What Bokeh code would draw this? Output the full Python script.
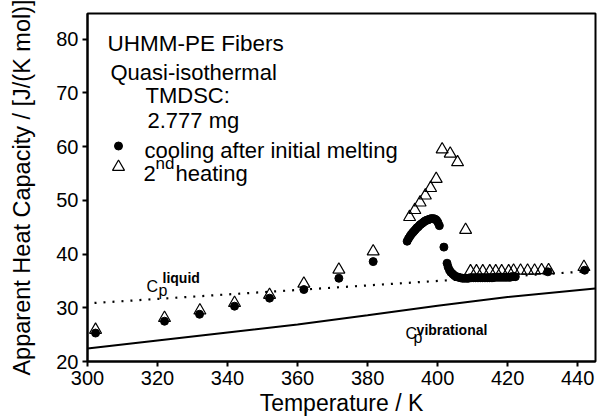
from bokeh.plotting import figure
from bokeh.models import Label, Range1d, FixedTicker
from bokeh.embed import file_html
from bokeh.resources import INLINE

# ---------------- data ----------------
x_ticks = [300, 320, 340, 360, 380, 400, 420, 440]
y_ticks = [20, 30, 40, 50, 60, 70, 80]

# cooling after initial melting (filled circles)
cool_T = [302.3, 322.0, 332.0, 342.0, 352.0, 361.8, 371.8, 381.6,
          391.3, 391.7, 392.1, 392.5, 392.9, 393.3, 393.7, 394.1, 394.5, 394.9,
          395.3, 395.7, 396.1, 396.5, 396.9, 397.3, 397.7, 398.1, 398.5, 398.9,
          399.3, 399.7, 400.1, 400.5, 401.8, 402.7, 403.0, 403.4, 403.8, 404.3,
          404.8, 405.3, 405.9, 406.5, 407.1, 407.7, 408.3, 408.8, 409.3, 409.8,
          410.3, 410.8, 411.3, 411.8, 412.3, 412.8, 413.3, 413.8, 414.3, 414.8,
          415.3, 415.8, 416.3, 416.8, 417.3, 417.8, 418.3, 418.8, 419.3, 419.8,
          420.3, 420.8, 421.3, 421.8, 422.2, 431.5, 442.0]
cool_C = [25.3, 27.5, 28.8, 30.3, 31.8, 33.4, 35.5, 38.6,
          42.4, 42.9, 43.3, 43.7, 44.0, 44.3, 44.6, 44.9, 45.1, 45.4,
          45.6, 45.8, 46.0, 46.2, 46.3, 46.4, 46.5, 46.6, 46.6, 46.6,
          46.5, 46.3, 45.9, 45.3, 41.3, 38.3, 37.6, 37.0, 36.6, 36.3,
          36.0, 35.8, 35.7, 35.6, 35.5, 35.5, 35.5, 35.5, 35.6, 35.6,
          35.6, 35.6, 35.6, 35.6, 35.6, 35.6, 35.6, 35.6, 35.6, 35.6,
          35.6, 35.6, 35.7, 35.7, 35.7, 35.7, 35.7, 35.7, 35.7, 35.7,
          35.7, 35.7, 35.8, 35.8, 35.8, 36.7, 37.0]

# 2nd heating (open triangles)
heat_T = [302.3, 322.0, 332.1, 342.0, 352.0, 361.8, 371.8, 381.6,
          392.0, 393.5, 395.0, 396.5, 398.0, 399.6, 401.3, 403.6, 405.7, 408.0,
          409.4, 411.1, 412.9, 414.9, 416.6, 418.3, 420.3,
          421.7, 423.7, 425.7, 427.7, 429.7, 431.7, 441.8]
heat_C = [25.9, 28.1, 29.5, 30.9, 32.4, 34.5, 37.1, 40.5,
          46.9, 48.2, 49.6, 50.9, 52.3, 54.0, 59.5, 58.7, 57.1, 44.5,
          36.8, 36.8, 36.8, 36.8, 36.8, 36.8, 36.8,
          36.9, 36.9, 36.9, 36.9, 37.0, 37.0, 37.6]

# reference lines
liq_T = [302.0, 443.0]
liq_C = [30.9, 36.8]
vib_T = [300, 320, 340, 360, 380, 400, 420, 445]
vib_C = [22.4, 23.9, 25.4, 26.9, 28.6, 30.4, 32.0, 33.6]

FONT = "Liberation Sans"


def at(px, py):
    """page pixel -> data coordinates (layout helper for annotations)"""
    return 300 + (px - 87) / 3.5, 20 + (362 - py) / 5.383


p = figure(width=597, height=418, output_backend="svg", toolbar_location=None,
           x_range=Range1d(300, 445.1), y_range=Range1d(20, 84.8),
           min_border_left=87, min_border_right=2, min_border_top=13,
           min_border_bottom=56)
p.grid.visible = False
p.outline_line_color = "black"
p.outline_line_width = 2
p.background_fill_color = "white"
p.border_fill_color = "white"

for ax, ticks in ((p.xaxis, x_ticks), (p.yaxis, y_ticks)):
    ax.ticker = FixedTicker(ticks=ticks)
    ax.axis_line_width = 2
    ax.axis_line_color = "black"
    ax.major_tick_line_color = "black"
    ax.major_tick_line_width = 2
    ax.major_tick_out = 5
    ax.major_tick_in = 0
    ax.minor_tick_line_color = None
    ax.major_label_text_font = FONT
    ax.major_label_text_font_size = "20px"
    ax.major_label_text_color = "black"
    ax.axis_label_text_font = FONT
    ax.axis_label_text_font_style = "normal"
    ax.axis_label_text_color = "black"

p.xaxis.axis_label = "Temperature / K"
p.yaxis.axis_label = "Apparent Heat Capacity / [J/(K mol)]"
p.xaxis.axis_label_text_font_size = "23px"
p.yaxis.axis_label_text_font_size = "23.5px"
p.xaxis.major_label_standoff = 4
p.xaxis.axis_label_standoff = 2
p.yaxis.major_label_standoff = 4
p.yaxis.axis_label_standoff = 18

# lines
p.line(liq_T, liq_C, line_color="black", line_width=2.2, line_dash="2 7")
p.line(vib_T, vib_C, line_color="black", line_width=2)

# markers
p.scatter(heat_T, heat_C, marker="triangle", size=12, fill_color="white",
          fill_alpha=0.0, line_color="black", line_width=1.2)
p.scatter(cool_T, cool_C, marker="circle", size=8, fill_color="black",
          line_color="black")

# legend keys
lx, ly = at(118, 146)
p.scatter([lx], [ly], marker="circle", size=8, fill_color="black", line_color="black")
lx, ly = at(118, 167)
p.scatter([lx], [ly], marker="triangle", size=12, fill_color=None,
          line_color="black", line_width=1.2)


def lab(px, py, text, size="22px", style="normal"):
    x, y = at(px, py)
    p.add_layout(Label(x=x, y=y, text=text, text_font=FONT, text_font_size=size,
                       text_font_style=style, text_color="black",
                       text_baseline="alphabetic", text_align="left"))


lab(107, 43, "UHMM-PE Fibers", size="22.5px")
lab(110, 72, "Quasi-isothermal")
lab(145, 95, "TMDSC:")
lab(147, 120, "2.777 mg")
lab(144, 151, "cooling after initial melting")
lab(143, 174, "2")
lab(155, 164, "nd", size="17px")
lab(175, 174, "heating")

# Cp liquid
lab(146, 287, "C", size="16px")
lab(158, 291, "p", size="16px")
lab(162, 278, "liquid", size="14px", style="bold")
# Cp vibrational
lab(405, 334, "C", size="16px")
lab(413, 338, "p", size="16px")
lab(416, 330, "vibrational", size="14px", style="bold")

open("out.html", "w").write(file_html(p, INLINE))
